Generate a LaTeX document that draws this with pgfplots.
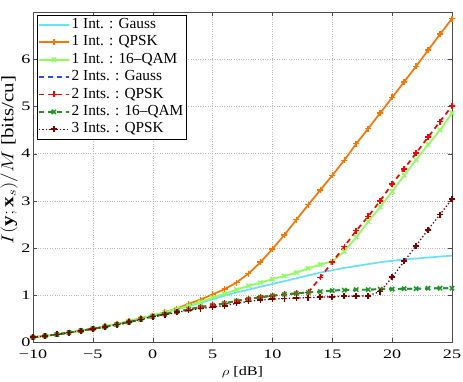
\documentclass[border=0pt]{standalone}
\usepackage{pgfplots}
\pgfplotsset{compat=1.18}
\usepackage{fontspec}
\setmainfont{Liberation Serif}
\newcommand{\sx}[1]{\scalebox{1.4}[1]{#1}}
\definecolor{cgauss}{rgb}{0.4,0.88,1}
\definecolor{cqpsk}{rgb}{1,0.45,0}
\definecolor{cqam}{rgb}{0.55,1,0.35}
\definecolor{cgauss2}{rgb}{0.15,0.3,1}
\definecolor{cqpsk2}{rgb}{1,0,0}
\definecolor{cqam2}{rgb}{0.1,0.6,0.1}
\definecolor{cqpsk3}{rgb}{0.5,0,0}
\pgfplotsset{every axis plot post/.append style={legend image code/.code={\draw[mark repeat=2,mark phase=2,##1] plot coordinates {(0bp,0bp) (15bp,0bp) (30bp,0bp)};}}}
\begin{document}
\begin{tikzpicture}
\path[use as bounding box] (0,0) rectangle (463bp,382bp);
\begin{axis}[
  at={(33bp,39.5bp)}, anchor=south west,
  scale only axis, width=419bp, height=330.5bp,
  xmin=-10, xmax=25, ymin=0, ymax=7,
  xtick={-10,-5,0,5,10,15,20,25},
  xticklabels={\sx{−10},\sx{−5},\sx{0},\sx{5},\sx{10},\sx{15},\sx{20},\sx{25}},
  ytick={0,1,2,3,4,5,6},
  yticklabels={\sx{0},\sx{1},\sx{2},\sx{3},\sx{4},\sx{5},\sx{6}},
  tick label style={font=\fontsize{13}{15}\selectfont},
  xticklabel style={yshift=-3.5bp},
  yticklabel style={xshift=1bp},
  tick align=inside,
  major tick length=4bp,
  axis line style={gray!60!black},
  tick style={gray!60!black},
  grid=major,
  grid style={dotted, gray!55},
  xlabel={\scalebox{1.25}[1]{$\rho$ [dB]}},
  ylabel={\scalebox{1.2}[1]{$I(\mathbf{y};\mathbf{x}_s)/M$ [bits/cu]}},
  xlabel style={font=\fontsize{13}{15}\selectfont, yshift=-1bp},
  ylabel style={font=\fontsize{17.5}{19}\selectfont, at={(ticklabel cs:0.552)}, yshift=-3bp},
  legend cell align=left,
  legend style={at={(0.009,0.991)}, anchor=north west, fill=white,
    inner sep=1bp, row sep=0bp, font=\fontsize{15.4}{17}\selectfont,
    nodes={inner ysep=0.8bp, text height=11.5bp, text depth=4.3bp}},
  every axis plot/.append style={mark size=3bp},
]
\addplot[cgauss, line width=1.7bp] coordinates {
(-10,0.11)(-9,0.14)(-8,0.17)(-7,0.21)(-6,0.25)(-5,0.29)(-4,0.34)(-3,0.39)(-2,0.45)(-1,0.51)(0,0.57)
(1,0.63)(2,0.70)(3,0.77)(4,0.84)(5,0.92)(6,0.99)(7,1.06)(8,1.12)(9,1.18)(10,1.24)(11,1.30)(12,1.36)
(13,1.42)(14,1.48)(15,1.53)(16,1.58)(17,1.62)(18,1.66)(19,1.70)(20,1.73)(21,1.76)(22,1.78)(23,1.80)(24,1.82)(25,1.84)};
\addlegendentry{1 Int. : Gauss}
\addplot[cqpsk, line width=1.7bp, mark=+, mark options={line width=1.5bp}] coordinates {
(-10,0.11)(-9,0.14)(-8,0.17)(-7,0.21)(-6,0.25)(-5,0.29)(-4,0.34)(-3,0.39)(-2,0.45)(-1,0.51)(0,0.57)
(1,0.64)(2,0.72)(3,0.82)(4,0.91)(5,1.02)(6,1.13)(7,1.27)(8,1.46)(9,1.70)(10,1.98)(11,2.28)(12,2.60)
(13,2.92)(14,3.23)(15,3.54)(16,3.86)(17,4.21)(18,4.53)(19,4.86)(20,5.19)(21,5.52)(22,5.85)(23,6.19)(24,6.53)(25,6.86)};
\addlegendentry{1 Int. : QPSK}
\addplot[cqam, line width=1.7bp, mark=x, mark options={line width=1.5bp}] coordinates {
(-10,0.11)(-9,0.14)(-8,0.17)(-7,0.21)(-6,0.25)(-5,0.29)(-4,0.34)(-3,0.39)(-2,0.45)(-1,0.51)(0,0.57)
(1,0.64)(2,0.71)(3,0.78)(4,0.86)(5,0.95)(6,1.03)(7,1.12)(8,1.20)(9,1.27)(10,1.34)(11,1.41)(12,1.48)
(13,1.57)(14,1.65)(15,1.72)(16,1.93)(17,2.23)(18,2.56)(19,2.87)(20,3.20)(21,3.54)(22,3.87)(23,4.19)(24,4.50)(25,4.86)};
\addlegendentry{1 Int. : 16--QAM}
\addplot[cgauss2, line width=1.7bp, dash pattern=on 5bp off 4bp] coordinates {
(-10,0.11)(-9,0.14)(-8,0.17)(-7,0.21)(-6,0.25)(-5,0.29)(-4,0.33)(-3,0.38)(-2,0.43)(-1,0.49)(0,0.55)
(1,0.60)(2,0.65)(3,0.70)(4,0.75)(5,0.79)(6,0.83)(7,0.88)(8,0.92)(9,0.96)(10,0.99)(11,1.02)(12,1.04)
(13,1.06)(14,1.08)(15,1.10)(16,1.11)(17,1.12)(18,1.12)(19,1.13)(20,1.13)(21,1.14)(22,1.14)(23,1.14)(24,1.15)(25,1.15)};
\addlegendentry{2 Ints. : Gauss}
\addplot[cqpsk2, line width=1.7bp, dash pattern=on 5bp off 4bp, mark=+, mark options={solid, line width=1.5bp}] coordinates {
(-10,0.11)(-9,0.14)(-8,0.17)(-7,0.21)(-6,0.25)(-5,0.29)(-4,0.33)(-3,0.38)(-2,0.43)(-1,0.49)(0,0.55)
(1,0.60)(2,0.65)(3,0.70)(4,0.75)(5,0.79)(6,0.83)(7,0.88)(8,0.92)(9,0.96)(10,0.99)(11,1.02)(12,1.04)
(13,1.06)(14,1.38)(15,1.70)(16,2.03)(17,2.37)(18,2.67)(19,3.00)(20,3.36)(21,3.68)(22,4.01)(23,4.35)(24,4.68)(25,5.01)};
\addlegendentry{2 Ints. : QPSK}
\addplot[cqam2, line width=1.7bp, dash pattern=on 5bp off 4bp, mark=x, mark options={solid, line width=1.5bp}] coordinates {
(-10,0.11)(-9,0.14)(-8,0.17)(-7,0.21)(-6,0.25)(-5,0.29)(-4,0.33)(-3,0.38)(-2,0.43)(-1,0.49)(0,0.55)
(1,0.60)(2,0.65)(3,0.70)(4,0.75)(5,0.79)(6,0.83)(7,0.88)(8,0.92)(9,0.96)(10,0.99)(11,1.02)(12,1.04)
(13,1.06)(14,1.08)(15,1.10)(16,1.11)(17,1.12)(18,1.12)(19,1.13)(20,1.13)(21,1.14)(22,1.14)(23,1.15)(24,1.15)(25,1.15)};
\addlegendentry{2 Ints. : 16--QAM}
\addplot[cqpsk3, line width=1.3bp, dash pattern=on 1.3bp off 2.2bp, mark=+, mark options={solid, line width=1.7bp}] coordinates {
(-10,0.11)(-9,0.14)(-8,0.17)(-7,0.21)(-6,0.25)(-5,0.29)(-4,0.33)(-3,0.38)(-2,0.43)(-1,0.49)(0,0.55)
(1,0.59)(2,0.64)(3,0.68)(4,0.72)(5,0.75)(6,0.78)(7,0.83)(8,0.87)(9,0.90)(10,0.92)(11,0.93)(12,0.94)
(13,0.95)(14,0.96)(15,0.97)(16,0.98)(17,0.98)(18,0.99)(19,1.08)(20,1.38)(21,1.72)(22,2.05)(23,2.39)(24,2.71)(25,3.04)};
\addlegendentry{3 Ints. : QPSK}
\end{axis}
\end{tikzpicture}
\end{document}
